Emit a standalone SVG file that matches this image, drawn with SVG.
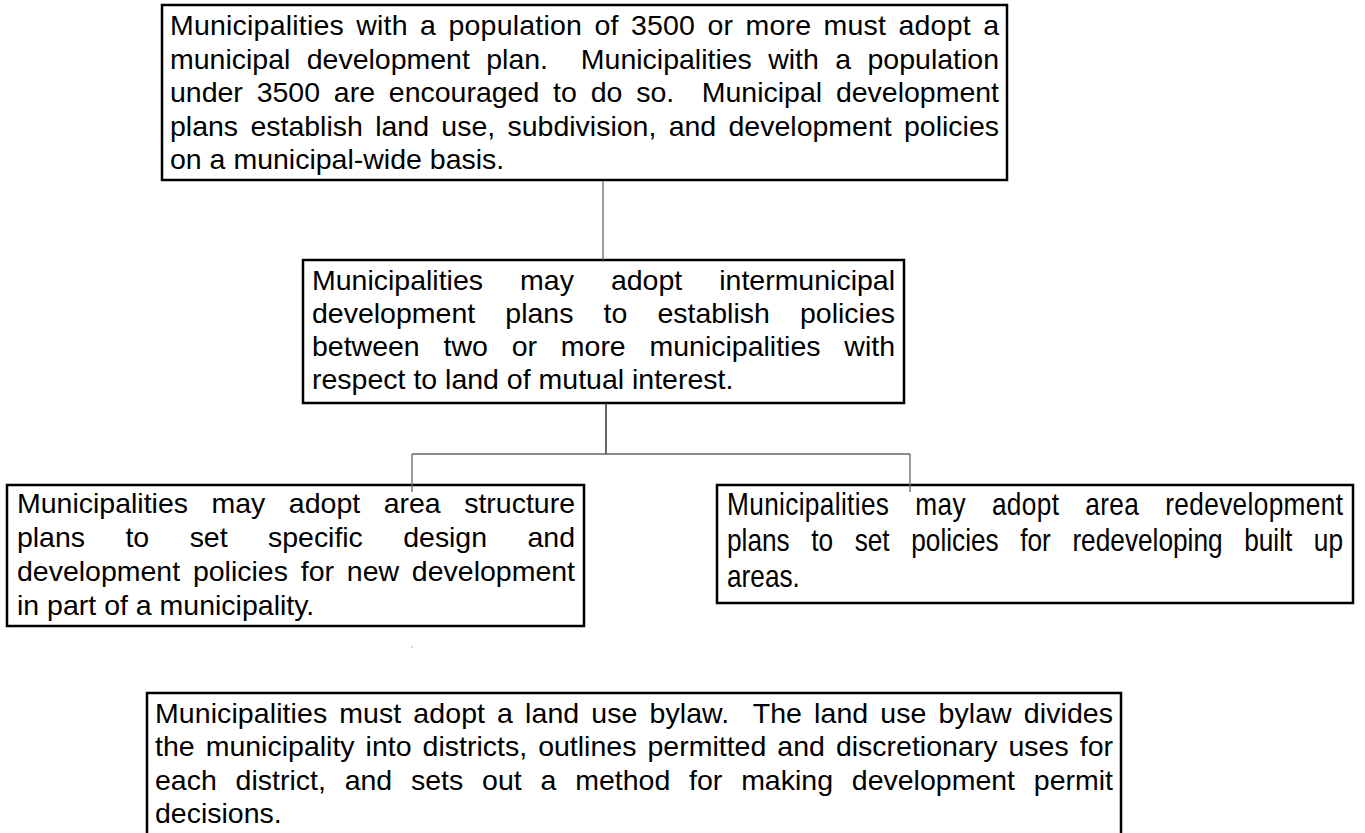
<svg xmlns="http://www.w3.org/2000/svg" width="1365" height="833" viewBox="0 0 1365 833">
<style>
.box{fill:#fff;stroke:#000;stroke-width:2.5}
.t{font-family:"Liberation Sans",Arial,sans-serif;font-size:28.5px;fill:#000}
.n{font-family:"Liberation Sans",Arial,sans-serif;font-size:32px;fill:#000}
.c{stroke:#666;stroke-width:1.3;fill:none}
.c2{stroke:#333;stroke-width:1.5;fill:none}
</style>
<rect x="0" y="0" width="1365" height="833" fill="#fff"/>
<g id="node-mdp">
<rect class="box" x="162" y="5" width="845" height="175"/>
<text class="t" x="170" y="35" word-spacing="4.2" textLength="829" lengthAdjust="spacing">Municipalities with a population of 3500 or more must adopt a</text>
<text class="t" x="170" y="68.5" xml:space="preserve" word-spacing="8.5" textLength="829" lengthAdjust="spacing">municipal development plan.  Municipalities with a population</text>
<text class="t" x="170" y="102" xml:space="preserve" word-spacing="5.9" textLength="829" lengthAdjust="spacing">under 3500 are encouraged to do so.  Municipal development</text>
<text class="t" x="170" y="135.5" word-spacing="4.4" textLength="829" lengthAdjust="spacing">plans establish land use, subdivision, and development policies</text>
<text class="t" x="170" y="169">on a municipal-wide basis.</text>
</g>
<g id="node-idp">
<rect class="box" x="303" y="260" width="601" height="143"/>
<text class="t" x="312" y="290" word-spacing="29.1" textLength="583" lengthAdjust="spacing">Municipalities may adopt intermunicipal</text>
<text class="t" x="312" y="323" word-spacing="22.2" textLength="583" lengthAdjust="spacing">development plans to establish policies</text>
<text class="t" x="312" y="356" word-spacing="15.9" textLength="583" lengthAdjust="spacing">between two or more municipalities with</text>
<text class="t" x="312" y="389">respect to land of mutual interest.</text>
</g>
<g id="node-asp">
<rect class="box" x="7" y="485" width="577" height="141"/>
<text class="t" x="17" y="513" word-spacing="15.6" textLength="558" lengthAdjust="spacing">Municipalities may adopt area structure</text>
<text class="t" x="17" y="547" word-spacing="32.7" textLength="558" lengthAdjust="spacing">plans to set specific design and</text>
<text class="t" x="17" y="581" word-spacing="4.9" textLength="558" lengthAdjust="spacing">development policies for new development</text>
<text class="t" x="17" y="615">in part of a municipality.</text>
</g>
<g id="node-arp">
<rect class="box" x="717" y="485" width="636" height="118"/>
<g transform="translate(727,0) scale(0.82,1)">
<text class="n" x="0" y="515" word-spacing="22.4" textLength="751.2" lengthAdjust="spacing">Municipalities may adopt area redevelopment</text>
<text class="n" x="0" y="551" word-spacing="17.4" textLength="751.2" lengthAdjust="spacing">plans to set policies for redeveloping built up</text>
<text class="n" x="0" y="587">areas.</text>
</g>
</g>
<g id="node-lub">
<rect class="box" x="147" y="693" width="974" height="160"/>
<text class="t" x="155" y="723" xml:space="preserve" word-spacing="4.0" textLength="958" lengthAdjust="spacing">Municipalities must adopt a land use bylaw.  The land use bylaw divides</text>
<text class="t" x="155" y="756" word-spacing="3.1" textLength="958" lengthAdjust="spacing">the municipality into districts, outlines permitted and discretionary uses for</text>
<text class="t" x="155" y="790" word-spacing="10.9" textLength="958" lengthAdjust="spacing">each district, and sets out a method for making development permit</text>
<text class="t" x="155" y="823">decisions.</text>
</g>
<g id="connectors">
<line class="c" x1="603" y1="181" x2="603" y2="260"/>
<line class="c2" x1="606" y1="403" x2="606" y2="454"/>
<line class="c" x1="412" y1="454" x2="910" y2="454"/>
<line class="c" x1="412" y1="454" x2="412" y2="492"/>
<line class="c" x1="910" y1="454" x2="910" y2="492"/>
<rect x="411.5" y="646" width="1" height="2" fill="#aaa"/>
</g>
</svg>
